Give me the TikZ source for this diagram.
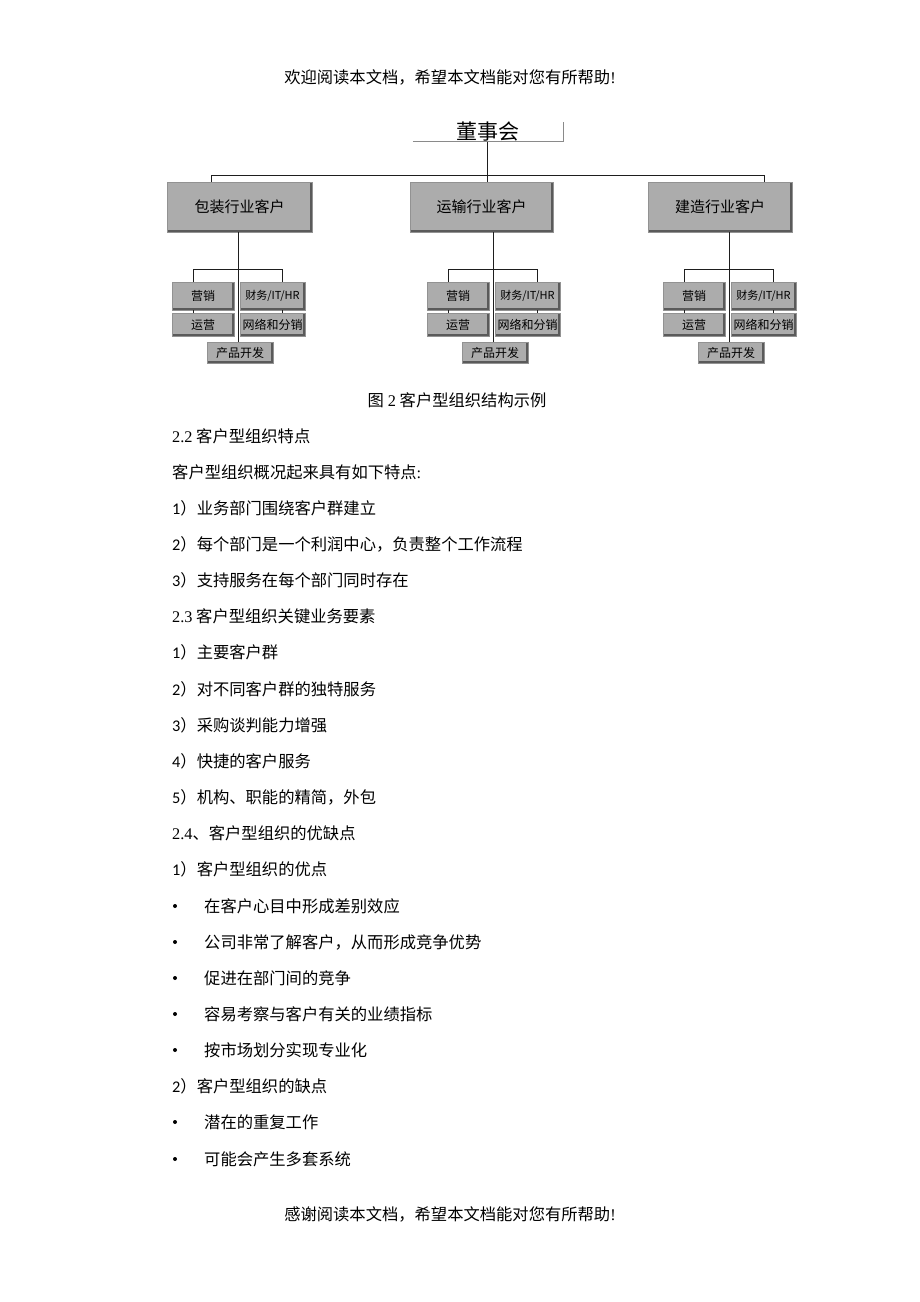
\documentclass[tikz,border=0pt]{standalone}
\usepackage{fontspec}
\setmainfont{Noto Sans CJK SC}
\newfontfamily\latser{Liberation Serif}
\newfontfamily\latcal{Carlito}
\usetikzlibrary{calc}
\definecolor{boxfill}{RGB}{172,172,172}
\definecolor{boxdark}{RGB}{90,90,90}
\definecolor{boxlight}{RGB}{218,218,218}
\definecolor{linedark}{RGB}{30,30,30}
\tikzset{
  bev/.style={fill=boxfill, draw=boxfill!85!black, line width=0.4pt, inner sep=0pt,
    path picture={
      \draw[boxlight,line width=2.4pt] (path picture bounding box.south west) -- (path picture bounding box.north west) -- (path picture bounding box.north east);
      \draw[boxdark,line width=3.6pt] (path picture bounding box.south west) -- (path picture bounding box.south east) -- (path picture bounding box.north east);
    }},
  topbox/.style={bev, minimum height=50pt, font=\fontsize{15}{15}\selectfont},
  smallbox/.style={bev, minimum width=62pt, font=\fontsize{12}{12}\selectfont},
  txt/.style={anchor=west, inner sep=0pt, font=\fontsize{16.3}{17}\selectfont},
  ctxt/.style={inner sep=0pt, font=\fontsize{16.3}{17}\selectfont},
  bul/.style={fill=black, circle, inner sep=0pt, minimum size=4pt},
  conn/.style={draw=linedark, line width=0.9pt},
}
\newcommand\subgroup[2]{%
  \node[smallbox, minimum height=28pt] (m#2) at (#1-35,296) {营销};
  \node[smallbox, minimum height=28pt, minimum width=65pt, font=\fontsize{11}{12}\selectfont] (f#2) at (#1+34.5,296) {财务/IT/HR};
  \node[smallbox, minimum height=23pt] (o#2) at (#1-35,324.5) {运营};
  \node[smallbox, minimum height=23pt, minimum width=65pt] (n#2) at (#1+34.5,324.5) {网络和分销};
  \node[smallbox, minimum height=21pt, minimum width=66pt] (p#2) at (#1+2,352.5) {产品开发};
  \coordinate (hl#2) at (#1-45,269);
  \coordinate (hr#2) at (#1+44,269);
  \coordinate (hv#2) at (#1,269);
  \draw[conn] (m#2.north -| hl#2) -- (hl#2) -- (hr#2) -- (f#2.north -| hr#2);
  \draw[conn] (m#2.south -| hl#2) -- (o#2.north -| hl#2);
  \draw[conn] (f#2.south -| hr#2) -- (n#2.north -| hr#2);
  \draw[conn] (c#2.south -| hv#2) -- (p#2.north -| hv#2);
}
\begin{document}
\begin{tikzpicture}[x=1pt,y=-1pt]
\useasboundingbox[fill=white] (0,0) rectangle (920,1302);

% header
\node[ctxt] (hdr) at (450,77) {欢迎阅读本文档，希望本文档能对您有所帮助{\latser !}};

% board
\node[inner sep=0pt, minimum width=150pt, minimum height=19pt, font=\fontsize{21}{22}\selectfont] (ds) at (488,132) {董事会};
\draw[boxfill!80!black, line width=1.2pt] (ds.south west) -- (ds.south east) -- (ds.north east);

% customer boxes
\node[topbox, minimum width=145pt] (c1) at (239.5,207) {包装行业客户};
\node[topbox, minimum width=143pt] (c2) at (481.5,207) {运输行业客户};
\node[topbox, minimum width=144pt] (c3) at (720,207) {建造行业客户};

\coordinate (j1) at (211,175);
\coordinate (j2) at (487,175);
\coordinate (j3) at (764,175);
\draw[conn] (c1.north -| j1) -- (j1) -- (j3) -- (c3.north -| j3);
\draw[conn] (ds.south -| j2) -- (c2.north -| j2);

\subgroup{238}{1}
\subgroup{493}{2}
\subgroup{729}{3}

% caption
\node[ctxt] (cap) at (457,400) {图{\latser\ 2} 客户型组织结构示例};

% body text
\node[txt] (t1) at (172,436) {{\latser 2.2} 客户型组织特点};
\node[txt] (t2) at (172,472) {客户型组织概况起来具有如下特点{\latser :}};
\node[txt] (t3) at (172,508) {{\latcal 1}）业务部门围绕客户群建立};
\node[txt] (t4) at (172,544) {{\latcal 2}）每个部门是一个利润中心，负责整个工作流程};
\node[txt] (t5) at (172,580) {{\latcal 3}）支持服务在每个部门同时存在};
\node[txt] (t6) at (172,616) {{\latser 2.3} 客户型组织关键业务要素};
\node[txt] (t7) at (172,652) {{\latcal 1}）主要客户群};
\node[txt] (t8) at (172,689) {{\latcal 2}）对不同客户群的独特服务};
\node[txt] (t9) at (172,725) {{\latcal 3}）采购谈判能力增强};
\node[txt] (t10) at (172,761) {{\latcal 4}）快捷的客户服务};
\node[txt] (t11) at (172,797) {{\latcal 5}）机构、职能的精简，外包};
\node[txt] (t12) at (172,833) {{\latser 2.4}、客户型组织的优缺点};
\node[txt] (t13) at (172,869) {{\latcal 1}）客户型组织的优点};

\foreach \yy/\tt [count=\i] in {906/在客户心目中形成差别效应, 942/{公司非常了解客户，从而形成竞争优势}, 978/促进在部门间的竞争, 1014/容易考察与客户有关的业绩指标, 1050/按市场划分实现专业化} {
  \node[bul] (b\i) at (175,\yy) {};
  \node[txt] (bt\i) at (204,\yy) {\tt};
}
\node[txt] (t14) at (172,1086) {{\latcal 2}）客户型组织的缺点};
\node[bul] (d1) at (175,1122) {};
\node[txt] (dt1) at (204,1122) {潜在的重复工作};
\node[bul] (d2) at (175,1159) {};
\node[txt] (dt2) at (204,1159) {可能会产生多套系统};

% footer
\node[ctxt] (ftr) at (450,1214) {感谢阅读本文档，希望本文档能对您有所帮助{\latser !}};
\end{tikzpicture}
\end{document}
